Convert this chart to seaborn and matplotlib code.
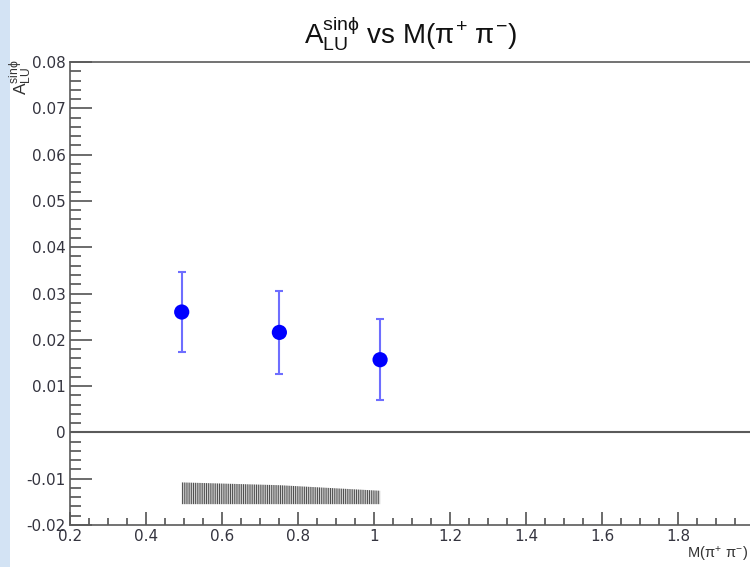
import numpy as np
import pandas as pd
import matplotlib
matplotlib.use("Agg")
import matplotlib.pyplot as plt
import seaborn as sns
from matplotlib.ticker import MultipleLocator, FixedFormatter, FixedLocator

# Measured asymmetry per invariant-mass bin
mass = [0.494, 0.751, 1.016]
asym = [0.0260, 0.0216, 0.0157]
stat_err = [0.0086, 0.0090, 0.0087]
# Systematic uncertainty band (height above a fixed baseline)
sys_err = [0.0047, 0.0041, 0.0029]
sys_base = -0.0155

x_ticks = [0.2, 0.4, 0.6, 0.8, 1.0, 1.2, 1.4, 1.6, 1.8, 2.0]
x_tick_labels = ["0.2", "0.4", "0.6", "0.8", "1", "1.2", "1.4", "1.6", "1.8", "2"]
y_ticks = [-0.02, -0.01, 0.0, 0.01, 0.02, 0.03, 0.04, 0.05, 0.06, 0.07, 0.08]
y_tick_labels = ["-0.02", "-0.01", "0", "0.01", "0.02", "0.03", "0.04", "0.05",
                 "0.06", "0.07", "0.08"]

sns.set_theme(style="white")
plt.rcParams["font.family"] = ["DejaVu Sans"]
plt.rcParams["mathtext.fontset"] = "custom"
plt.rcParams["mathtext.rm"] = "Liberation Sans"
plt.rcParams["mathtext.it"] = "Liberation Sans"
plt.rcParams["hatch.linewidth"] = 0.8
plt.rcParams["hatch.color"] = "#505050"

W, H = 750, 567
fig = plt.figure(figsize=(W / 100, H / 100), dpi=100)
fig.patch.set_facecolor("white")

# light blue strip along the left edge
fig.patches.append(plt.Rectangle((0, 0), 10 / W, 1, transform=fig.transFigure,
                                 facecolor="#d3e3f4", edgecolor="none", zorder=0))

left_px, right_px, top_px, bot_px = 70, 754, 62, 525
ax = fig.add_axes([left_px / W, 1 - bot_px / H, (right_px - left_px) / W,
                   (bot_px - top_px) / H])
ax.set_facecolor("white")

ax.set_xlim(0.2, 2.0)
ax.set_ylim(-0.02, 0.08)

# systematic band
m = np.array(mass)
top = sys_base + np.array(sys_err)
ax.fill_between(m, sys_base, top, facecolor="none", edgecolor="#505050",
                hatch="|||||||||", linewidth=0, zorder=2)

# zero line
ax.axhline(0, color="#5a5a5a", lw=1.5, zorder=1)

# statistical error bars and points
ax.errorbar(mass, asym, yerr=stat_err, fmt="none", ecolor="#6e6eff",
            elinewidth=1.5, capsize=2.6, capthick=1.5, zorder=3)
df = pd.DataFrame({"mass": mass, "asym": asym})
sns.scatterplot(data=df, x="mass", y="asym", ax=ax, color="#0000ff", s=120,
                edgecolor="none", linewidth=0, zorder=4, legend=False)
ax.set_xlabel("")
ax.set_ylabel("")

# axes in a plain frame style
for side in ["left", "bottom", "top", "right"]:
    ax.spines[side].set_color("#5a5a5a")
    ax.spines[side].set_linewidth(1.2)

ax.xaxis.set_major_locator(FixedLocator(x_ticks))
ax.xaxis.set_major_formatter(FixedFormatter(x_tick_labels))
ax.xaxis.set_minor_locator(MultipleLocator(0.05))
ax.yaxis.set_major_locator(FixedLocator(y_ticks))
ax.yaxis.set_major_formatter(FixedFormatter(y_tick_labels))
ax.yaxis.set_minor_locator(MultipleLocator(0.002))

ax.tick_params(axis="x", which="major", direction="in", length=9.5, width=1.1,
               color="#444444", bottom=True, top=False, labelsize=11,
               labelcolor="#34343f", pad=3)
ax.tick_params(axis="x", which="minor", direction="in", length=5, width=1.1,
               color="#444444", bottom=True, top=False)
ax.tick_params(axis="y", which="major", direction="in", length=16, width=1.1,
               color="#444444", left=True, right=False, labelsize=11,
               labelcolor="#34343f", pad=3)
ax.tick_params(axis="y", which="minor", direction="in", length=8, width=1.1,
               color="#444444", left=True, right=False)

# title and axis titles
fig.text(411 / W, 1 - 34 / H, r"$\mathrm{A_{LU}^{sin\phi}}$ vs M($\pi^{+}$ $\pi^{-}$)",
         ha="center", va="center", fontsize=20, color="#111111",
         family="Liberation Sans")
fig.text(748 / W, 1 - 555 / H, r"M($\pi^{+}$ $\pi^{-}$)", ha="right",
         va="center", fontsize=10.5, color="#333333", family="Liberation Sans")
fig.text(21 / W, 1 - 59 / H, r"$\mathrm{A_{LU}^{sin\phi}}$", ha="center",
         va="top", rotation=90, fontsize=12.5, color="#333333",
         family="Liberation Sans")

fig.savefig("out.png", dpi=100, facecolor="white")
